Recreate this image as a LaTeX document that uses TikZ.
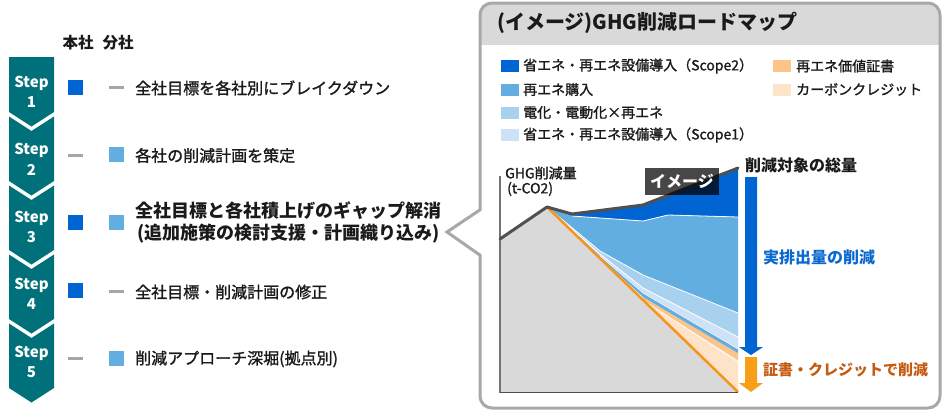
\documentclass[tikz,border=0pt]{standalone}
\usepackage{fontspec}
\setmainfont{Noto Sans CJK JP}
\newfontfamily\medfont{Noto Sans CJK JP}[FakeBold=1.3]
\definecolor{tealA}{HTML}{00717A}
\definecolor{blueA}{HTML}{0064D2}
\definecolor{blueB}{HTML}{62AEE1}
\definecolor{blueC}{HTML}{A8D1F0}
\definecolor{blueD}{HTML}{CDE2F6}
\definecolor{orangeA}{HTML}{FAC48B}
\definecolor{orangeB}{HTML}{FDE4C9}
\definecolor{orangeL}{HTML}{F7941D}
\definecolor{grayF}{HTML}{D9D9D9}
\definecolor{headG}{HTML}{D9D9D9}
\definecolor{panelL}{HTML}{A8A8A8}
\definecolor{dashG}{HTML}{A6A6A6}
\definecolor{darkL}{HTML}{505050}
\definecolor{labO}{HTML}{C55A11}
\definecolor{labB}{HTML}{0A68D0}
\definecolor{txt}{HTML}{1A1A1A}
\begin{document}
\begin{tikzpicture}[x=1pt,y=-1pt,
  steptext/.style={text=white,font=\fontsize{15}{15}\selectfont\bfseries,inner sep=0},
  hqbox/.style={fill=blueA,minimum width=15pt,minimum height=15pt,inner sep=0},
  brbox/.style={fill=blueB,minimum width=15pt,minimum height=15pt,inner sep=0},
  dashnode/.style={fill=dashG,minimum width=15pt,minimum height=3pt,inner sep=0},
  rowtext/.style={anchor=west,text=txt,font=\fontsize{16}{16}\selectfont\medfont,inner sep=0},
  colhead/.style={text=txt,font=\fontsize{15.5}{15.5}\selectfont\bfseries,inner sep=0},
  legbox/.style={minimum width=18pt,minimum height=12pt,inner sep=0},
  legtext/.style={anchor=west,text=txt,font=\fontsize{14}{14}\selectfont\medfont,inner sep=0},
  panelline/.style={draw=panelL,line width=3pt},
  sep/.style={draw=white,line width=0.8pt},
  chartlab/.style={anchor=west,font=\fontsize{16}{16}\selectfont\bfseries,inner sep=0}
]
\useasboundingbox (0,0) rectangle (944,413);
\fill[white] (0,0) rectangle (944,413);

% ---------- left: steps ----------
\fill[tealA] (9,57) -- (54,57) -- (54,112) -- (31.5,126.5) -- (9,112) -- cycle;
\foreach \s in {181,250,319,388}{
  \pgfmathsetmacro\t{\s-69+4.5}
  \fill[tealA] (9,\t) -- (31.5,\t+14.5) -- (54,\t) -- (54,\s) -- (31.5,\s+14.5) -- (9,\s) -- cycle;
}
\foreach \k/\c in {1/92.5,2/159.5,3/227.5,4/294.5,5/362.5}{
  \node[steptext] (st\k) at (31.5,\c-9.5) {Step};
  \node[steptext] (sn\k) at (31.5,\c+10) {\k};
}

\node[colhead] (hq) at (78,43) {本社};
\node[colhead] (br) at (118,43) {分社};

% row 1
\node[hqbox] (r1a) at (75.5,87) {};
\node[dashnode] (r1b) at (116.5,87.5) {};
\node[rowtext] (r1t) at (135,88) {全社目標を各社別にブレイクダウン};
% row 2
\node[dashnode] (r2a) at (75.5,155) {};
\node[brbox] (r2b) at (116.5,154.5) {};
\node[rowtext] (r2t) at (135,155.5) {各社の削減計画を策定};
% row 3
\node[hqbox] (r3a) at (75.5,222.5) {};
\node[brbox] (r3b) at (116.5,222.5) {};
\node[text=txt,font=\fontsize{18}{21.5}\selectfont\bfseries,align=center,inner sep=0] (r3t) at (288.5,222.5)
  {全社目標と各社積上げのギャップ解消\\(追加施策の検討支援・計画織り込み)};
% row 4
\node[hqbox] (r4a) at (75.5,290.5) {};
\node[dashnode] (r4b) at (116.5,291) {};
\node[rowtext] (r4t) at (135,292) {全社目標・削減計画の修正};
% row 5
\node[dashnode] (r5a) at (75.5,358) {};
\node[brbox] (r5b) at (116.5,358) {};
\node[rowtext] (r5t) at (135,359) {削減アプローチ深堀(拠点別)};

% ---------- right: panel ----------
\begin{scope}
  \clip[rounded corners=12] (480,3) rectangle (940,408);
  \fill[white] (480,3) rectangle (940,408);
  \fill[headG] (480,3) rectangle (940,45);
\end{scope}
\draw[panelline,rounded corners=12] (480,3) rectangle (940,408);
\fill[white] (484,209) -- (447,232) -- (484,256) -- cycle;
\draw[panelline,line join=miter] (480.5,209.5) -- (447,232) -- (480.5,255.5);

\node[anchor=west,text=txt,font=\fontsize{20}{20}\selectfont\bfseries,inner sep=0] (title) at (497,23)
  {(イメージ)GHG削減ロードマップ};

% legend
\node[legbox,fill=blueA] (l1) at (510,66) {};
\node[legtext] (l1t) at (523,66) {省エネ・再エネ設備導入（Scope2）};
\node[legbox,fill=blueB] (l2) at (510,89.5) {};
\node[legtext] (l2t) at (523,89.5) {再エネ購入};
\node[legbox,fill=blueC] (l3) at (510,112.5) {};
\node[legtext] (l3t) at (523,112.5) {電化・電動化×再エネ};
\node[legbox,fill=blueD] (l4) at (510,135) {};
\node[legtext] (l4t) at (523,135) {省エネ・再エネ設備導入（Scope1）};
\node[legbox,fill=orangeA] (l5) at (782,66) {};
\node[legtext] (l5t) at (796,66) {再エネ価値証書};
\node[legbox,fill=orangeB] (l6) at (782,89.5) {};
\node[legtext] (l6t) at (796,89.5) {カーボンクレジット};

% chart areas
\fill[grayF] (500,239) -- (547,207) -- (738,392) -- (500,392) -- cycle;
\fill[orangeB] (643,300) -- (738,358) -- (738,392) -- cycle;
\fill[orangeA] (643,297) -- (738,352) -- (738,360) -- (643,300) -- cycle;
\draw[white,line width=0.6pt] (643,300) -- (738,362);
\fill[blueA] (547,207) -- (572,214) -- (643,205) -- (738,168) -- (738,217) -- (668,215) -- (643,221) -- (572,216) -- cycle;
\fill[blueB] (547,207) -- (572,216) -- (643,221) -- (668,215) -- (738,217) -- (738,313) -- (643,275) -- (600,251) -- cycle;
\fill[blueC] (547,207) -- (600,251) -- (643,275) -- (738,313) -- (738,337) -- (643,288) -- (600,254) -- cycle;
\fill[blueD] (547,207) -- (600,254) -- (643,288) -- (738,337) -- (738,349) -- (643,293) -- (600,256) -- cycle;
\fill[blueB] (547,207) -- (600,256) -- (643,293) -- (738,349) -- (738,353) -- (643,297) -- (600,257.5) -- cycle;
\draw[sep] (572,216) -- (643,221) -- (668,215) -- (738,217);
\draw[sep] (547,207) -- (600,251) -- (643,275) -- (738,313);
\draw[sep] (547,207) -- (600,254) -- (643,288) -- (738,337);
\draw[sep,line width=0.5pt] (600,256) -- (643,293) -- (738,349);
\draw[orangeL,line width=2.5pt] (547,207) -- (738,392);

% axes
\draw[draw=darkL!80,line width=1.5pt] (500,176) -- (500,392.5);
\draw[draw=darkL,line width=1pt] (500,392) -- (738,392);
\draw[darkL,line width=3pt,line join=round,line cap=round] (500,239) -- (547,207) -- (572,214) -- (643,205) -- (738,168);

% image box
\node[fill=black,fill opacity=0.72,text opacity=1,text=white,font=\fontsize{16}{16}\selectfont\bfseries,
  minimum width=74pt,minimum height=27pt,inner sep=0] (img) at (682,181.5) {イメージ};

\node[anchor=west,text=txt,font=\fontsize{14}{14}\selectfont\medfont,inner sep=0] (yl1) at (505,173) {GHG削減量};
\node[anchor=west,text=txt,font=\fontsize{14}{14}\selectfont\medfont,inner sep=0] (yl2) at (507,189) {(t-CO2)};

% arrows
\fill[blueA] (745,177) -- (757,177) -- (757,347) -- (763,347) -- (751,355) -- (739,347) -- (745,347) -- cycle;
\fill[orangeL!90!yellow] (745,357) -- (757,357) -- (757,383) -- (763,383) -- (751,392) -- (739,383) -- (745,383) -- cycle;

\node[chartlab,text=txt] (tot) at (745,165) {削減対象の総量};
\node[chartlab,text=labB] (act) at (763,257) {実排出量の削減};
\node[chartlab,text=labO,font=\fontsize{15}{15}\selectfont\bfseries] (cer) at (763,370) {証書・クレジットで削減};
\end{tikzpicture}
\end{document}
